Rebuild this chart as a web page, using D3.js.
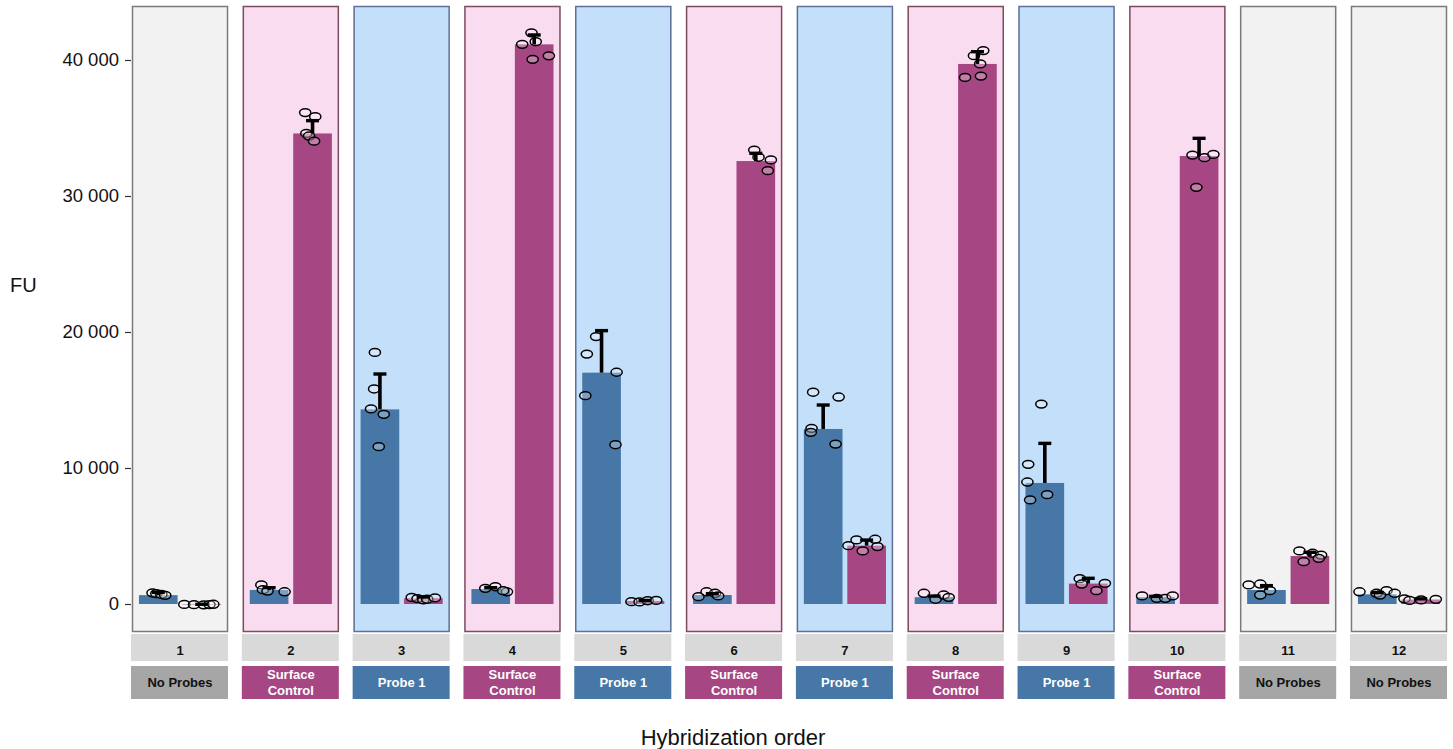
<!DOCTYPE html>
<html>
<head>
<meta charset="utf-8">
<script src="https://cdn.jsdelivr.net/npm/d3@7/dist/d3.min.js"></script>
<style>
  html, body { margin: 0; padding: 0; background: #fff; }
  svg { display: block; font-family: "Liberation Sans", Arial, Helvetica, sans-serif; }
</style>
</head>
<body>
<svg id="chart" width="1453" height="749"></svg>
<script>
// ---------- data ----------
const panels = ["1","2","3","4","5","6","7","8","9","10","11","12"];
const panelType = ["No Probes","Surface Control","Probe 1","Surface Control","Probe 1","Surface Control",
                   "Probe 1","Surface Control","Probe 1","Surface Control","No Probes","No Probes"];
const yTicks = [0, 10000, 20000, 30000, 40000];
const yTickLabels = ["0", "10 000", "20 000", "30 000", "40 000"];

// Probe 1 channel (blue)
const blueMean = [650, 1030, 14310, 1100, 17010, 660, 12870, 500, 8900, 500, 1030, 710];
const blueErr  = [850, 1200, 16910, 1200, 20100, 760, 14630, 580, 11810, 560, 1350, 850];
const bluePts = [
  [820, 760, 700, 640],
  [1400, 1050, 950, 900],
  [18500, 15810, 14340, 13950, 11570],
  [1150, 1270, 900, 980],
  [19660, 18380, 17040, 15320, 11710],
  [540, 900, 790, 590],
  [15570, 15220, 12920, 12620, 11760],
  [790, 350, 660, 490],
  [14700, 10270, 8970, 7650, 8040],
  [590, 420, 420, 590],
  [1400, 1470, 660, 980],
  [900, 790, 980, 790, 660]
];
const blueJit = [
  [-0.15, -0.05, 0.08, 0.18],
  [-0.20, -0.16, -0.04, 0.40],
  [-0.13, -0.15, -0.23, 0.10, -0.03],
  [-0.14, 0.12, 0.42, 0.32],
  [-0.14, -0.38, 0.39, -0.42, 0.36],
  [-0.36, -0.15, 0.07, 0.15],
  [-0.26, 0.40, -0.30, -0.32, 0.32],
  [-0.26, 0.04, 0.25, 0.38],
  [-0.09, -0.43, -0.45, -0.38, 0.06],
  [-0.35, 0.03, 0.25, 0.44],
  [-0.46, -0.16, -0.16, 0.09],
  [-0.46, -0.02, 0.24, 0.45, 0.07]
];

// Surface Control channel (magenta)
const magMean = [-40, 34600, 420, 41150, 220, 32570, 4290, 39710, 1500, 32940, 3530, 330];
const magErr  = [-20, 35540, 520, 41840, 260, 33140, 4700, 40610, 1890, 34240, 3800, 380];
const magPts = [
  [-30, -50, -60, -40, -20],
  [36130, 35830, 34600, 34410, 34030],
  [480, 400, 300, 350, 450],
  [42000, 41350, 41150, 40050, 40310],
  [170, 150, 240, 260],
  [33380, 32850, 32650, 31860],
  [4290, 4710, 4760, 4220, 3900],
  [40690, 40320, 39710, 38720, 38820],
  [1860, 1470, 1520, 980],
  [33010, 32820, 33060, 30640],
  [3900, 3730, 3600, 3360, 3110],
  [380, 300, 340, 260]
];
const magJit = [
  [-0.45, -0.20, 0.05, 0.20, 0.30],
  [-0.19, 0.07, -0.16, -0.09, 0.04],
  [-0.30, -0.15, 0.00, 0.10, 0.30],
  [-0.07, 0.04, -0.31, -0.04, 0.38],
  [-0.35, -0.14, 0.07, 0.29],
  [-0.04, 0.07, 0.39, 0.31],
  [-0.47, -0.26, 0.22, 0.28, -0.10],
  [0.15, -0.09, 0.07, -0.32, 0.09],
  [-0.22, -0.17, 0.43, 0.21],
  [-0.17, 0.14, 0.37, -0.07],
  [-0.27, 0.07, 0.29, 0.23, -0.16],
  [-0.42, 0.01, 0.39, -0.29]
];

// ---------- styles ----------
const typeStyle = {
  "No Probes":       { bg: "#f2f2f2", border: "#7a7a7a", strip: "#a6a6a6", text: "#111111" },
  "Surface Control": { bg: "#f9dcf0", border: "#7b4c5e", strip: "#a64783", text: "#ffffff" },
  "Probe 1":         { bg: "#c3dffa", border: "#5f6f97", strip: "#4677a7", text: "#ffffff" }
};
const seriesColor = { blue: "#4677a7", mag: "#a64783" };

// ---------- layout ----------
const svg = d3.select("#chart");
const panelTop = 6, panelBottom = 632;

const x = d3.scaleBand().domain(panels).range([132, 1447]).paddingInner(0.1336).paddingOuter(0);
const xi = d3.scaleBand().domain(["blue", "mag"]).range([0, x.bandwidth()]).paddingInner(0.11).paddingOuter(0.16);
const y = d3.scaleLinear().domain([-2059, 43970]).range([panelBottom, panelTop]);

// panels
const g = svg.append("g");
panels.forEach((p, i) => {
  const st = typeStyle[panelType[i]];
  const px = x(p);
  const pg = g.append("g").attr("transform", `translate(${px},0)`);
  pg.append("rect")
    .attr("x", 0).attr("y", panelTop)
    .attr("width", x.bandwidth()).attr("height", panelBottom - panelTop)
    .attr("fill", st.bg);

  const series = [
    { key: "blue", mean: blueMean[i], err: blueErr[i], pts: bluePts[i], jit: blueJit[i] },
    { key: "mag",  mean: magMean[i],  err: magErr[i],  pts: magPts[i],  jit: magJit[i] }
  ];
  // bars
  series.forEach(s => {
    pg.append("rect")
      .attr("x", xi(s.key))
      .attr("width", xi.bandwidth())
      .attr("y", Math.min(y(s.mean), y(0)))
      .attr("height", Math.abs(y(s.mean) - y(0)))
      .attr("fill", seriesColor[s.key]);
  });
  // points
  series.forEach(s => {
    const cx = xi(s.key) + xi.bandwidth() / 2;
    pg.selectAll(null).data(s.pts).enter().append("ellipse")
      .attr("cx", (d, j) => cx + s.jit[j] * xi.bandwidth())
      .attr("cy", d => y(d))
      .attr("rx", 5.6).attr("ry", 3.9)
      .attr("fill", "rgba(255,255,255,0.3)")
      .attr("stroke", "#000")
      .attr("stroke-width", 1.5);
  });
  // error bars (upper only)
  series.forEach(s => {
    const cx = xi(s.key) + xi.bandwidth() / 2;
    const capW = 13;
    pg.append("line")
      .attr("x1", cx).attr("x2", cx)
      .attr("y1", y(s.mean)).attr("y2", y(s.err))
      .attr("stroke", "#000").attr("stroke-width", 3.6);
    pg.append("line")
      .attr("x1", cx - capW / 2).attr("x2", cx + capW / 2)
      .attr("y1", y(s.err)).attr("y2", y(s.err))
      .attr("stroke", "#000").attr("stroke-width", 3.4);
  });
  // border
  pg.append("rect")
    .attr("x", 0.5).attr("y", panelTop + 0.5)
    .attr("width", x.bandwidth() - 1).attr("height", panelBottom - panelTop - 1)
    .attr("fill", "none").attr("stroke", st.border).attr("stroke-width", 1.5);

  // number strip
  pg.append("rect")
    .attr("x", -1).attr("y", 634).attr("width", x.bandwidth() + 1).attr("height", 27)
    .attr("fill", "#d9d9d9");
  pg.append("text")
    .attr("x", x.bandwidth() / 2).attr("y", 654.5)
    .attr("text-anchor", "middle")
    .attr("font-size", 13).attr("font-weight", "bold").attr("fill", "#111")
    .text(p);
  // type strip
  pg.append("rect")
    .attr("x", -1).attr("y", 666).attr("width", x.bandwidth() + 1).attr("height", 33)
    .attr("fill", st.strip);
  const lines = panelType[i] === "Surface Control" ? ["Surface", "Control"] : [panelType[i]];
  const t = pg.append("text")
    .attr("text-anchor", "middle")
    .attr("font-size", 13).attr("font-weight", "bold").attr("fill", st.text);
  if (lines.length === 1) {
    t.append("tspan").attr("x", x.bandwidth() / 2).attr("y", 687).text(lines[0]);
  } else {
    t.append("tspan").attr("x", x.bandwidth() / 2).attr("y", 679).text(lines[0]);
    t.append("tspan").attr("x", x.bandwidth() / 2).attr("y", 695).text(lines[1]);
  }
});

// y axis
const yAxis = d3.axisLeft(y).tickValues(yTicks).tickSize(6).tickPadding(6)
  .tickFormat((d, i) => yTickLabels[i]);
const ya = svg.append("g").attr("transform", "translate(131,0)").call(yAxis);
ya.select(".domain").remove();
ya.selectAll(".tick line").attr("stroke", "#333").attr("stroke-width", 1.2);
ya.selectAll(".tick text")
  .attr("font-size", 18.5).attr("fill", "#111")
  .attr("font-family", "'Liberation Sans', Arial, sans-serif");

// axis titles
svg.append("text").attr("x", 10).attr("y", 292)
  .attr("font-size", 20).attr("fill", "#111").text("FU");
svg.append("text").attr("x", 733).attr("y", 745)
  .attr("text-anchor", "middle")
  .attr("font-size", 22).attr("fill", "#111").text("Hybridization order");
</script>
</body>
</html>
